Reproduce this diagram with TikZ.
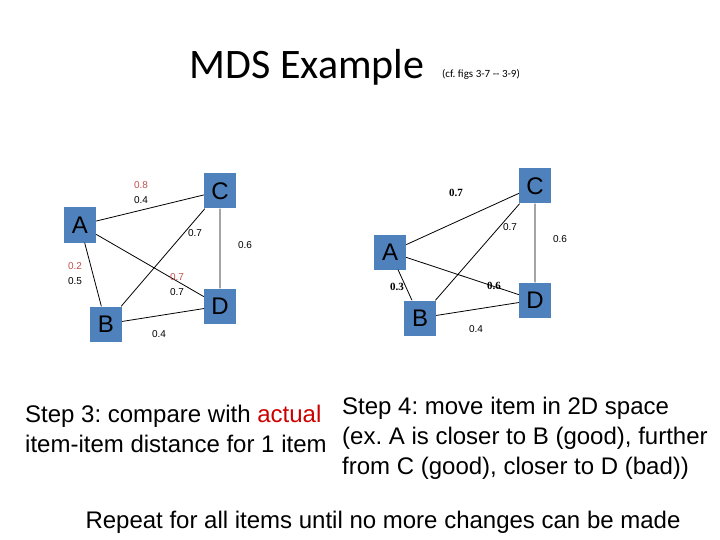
\documentclass[tikz,border=0pt]{standalone}
\usepackage{fontspec}
\setmainfont{Liberation Sans}
\newfontfamily\calfnt{Carlito}
\newfontfamily\tmsfnt{Liberation Serif}
\definecolor{boxc}{HTML}{4F81BD}
\definecolor{redc}{HTML}{C0504D}
\frenchspacing
\begin{document}
\begin{tikzpicture}[x=1pt,y=-1pt,
 item/.style={fill=boxc,minimum width=32pt,minimum height=35pt,inner sep=0pt,font=\fontsize{24}{24}\selectfont},
 lab/.style={font=\fontsize{10}{10}\selectfont,inner sep=0pt},
 rlab/.style={lab,text=redc},
 blab/.style={font=\tmsfnt\bfseries\fontsize{11}{11}\selectfont,inner sep=0pt},
 edge/.style={line width=0.8pt},
 txt/.style={font=\fontsize{24}{30}\selectfont,inner sep=0pt,anchor=west}]
\useasboundingbox (0,0) rectangle (720,540);
\node[font=\calfnt\fontsize{42}{42}\selectfont] (title) at (307,67) {MDS Example};
\node[font=\calfnt\fontsize{11}{11}\selectfont] (cf) at (481,74) {(cf. figs 3-7 -- 3-9)};
% left graph
\node[item] (A) at (80,225) {A};
\node[item] (C) at (220,191) {C};
\node[item] (B) at (106,324) {B};
\node[item] (D) at (220,306) {D};
\draw[edge] (A) -- (C) (A) -- (B) (A) -- (D) (B) -- (C) (C) -- (D) (B) -- (D);
\node[rlab] (l1) at (141,185) {0.8};
\node[lab] (l2) at (141,200) {0.4};
\node[lab] (l3) at (195,233) {0.7};
\node[lab] (l4) at (245,245) {0.6};
\node[rlab] (l5) at (75,266) {0.2};
\node[lab] (l6) at (75,281) {0.5};
\node[rlab] (l7) at (177,277) {0.7};
\node[lab] (l8) at (177,292) {0.7};
\node[lab] (l9) at (159,334) {0.4};
% right graph
\node[item] (A2) at (390,252) {A};
\node[item] (C2) at (535,186) {C};
\node[item] (B2) at (420,318) {B};
\node[item] (D2) at (535,300) {D};
\draw[edge] (A2) -- (C2) (A2) -- (B2) (A2) -- (D2) (B2) -- (C2) (C2) -- (D2) (B2) -- (D2);
\node[blab] (m1) at (456,193) {0.7};
\node[lab] (m2) at (510,227) {0.7};
\node[lab] (m3) at (560,239) {0.6};
\node[blab] (m4) at (397,287) {0.3};
\node[blab] (m5) at (494,286) {0.6};
\node[lab] (m6) at (476,329) {0.4};
% texts
\node[txt,align=left] (s3) at (25,429) {Step 3: compare with \textcolor{red!80!black}{actual}\\item-item distance for 1 item};
\node[txt,align=left] (s4) at (342,438) {Step 4: move item in 2D space\\(ex. A is closer to B (good), further\\from C (good), closer to D (bad))};
\node[font=\fontsize{24}{30}\selectfont] (rep) at (383,522) {Repeat for all items until no more changes can be made};
\end{tikzpicture}
\end{document}
